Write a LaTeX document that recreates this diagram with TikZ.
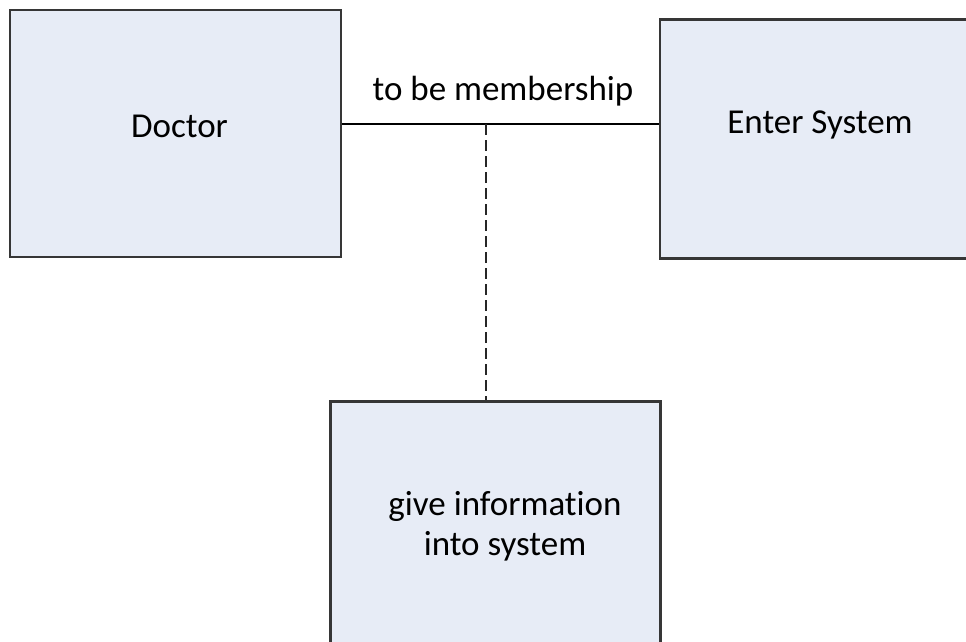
\documentclass[tikz,border=0pt]{standalone}
\usepackage{fontspec}
\setmainfont[Ligatures=NoCommon]{Carlito}
\definecolor{boxfill}{HTML}{E7ECF6}
\definecolor{boxline}{HTML}{363636}
\begin{document}
\begin{tikzpicture}[x=1pt,y=-1pt,
  block/.style={draw=boxline,fill=boxfill,line width=2.6pt,rectangle,inner sep=0pt},
  caption/.style={font=\fontsize{35}{40}\selectfont,inner sep=0pt,text=black},
  link/.style={draw=black,line width=2.2pt},
  dashlink/.style={draw=black!85,line width=2pt,dash pattern=on 11pt off 5pt}]
\useasboundingbox (0,0) rectangle (966,642);
\clip (0,0) rectangle (966,642);
% entities
\node[block,minimum width=331pt,minimum height=247pt] (doctor) at (175.5,133.5) {};
\node[block,minimum width=330pt,minimum height=239pt,anchor=north west] (enter) at (658.5,18) {};
\node[block,minimum width=330pt,minimum height=300pt,anchor=north west] (give) at (329,400) {};
% labels
\node[caption,anchor=base] (doctorlbl) at (179.5,137) {Doctor};
\node[caption,anchor=base] (enterlbl) at (820,133) {Enter System};
\node[caption,anchor=base,align=center] (givelbl) at (505,555) {give information\\into system};
% relation between doctor and the system
\draw[link] (doctor.east |- 0,124) coordinate (relA) -- (enter.west |- 0,124) coordinate (relB);
\node[caption,anchor=base] (rellbl) at (503,100) {to be membership};
\coordinate (relmid) at (486,124);
\draw[dashlink] (relmid) -- (relmid |- give.north);
\end{tikzpicture}
\end{document}
